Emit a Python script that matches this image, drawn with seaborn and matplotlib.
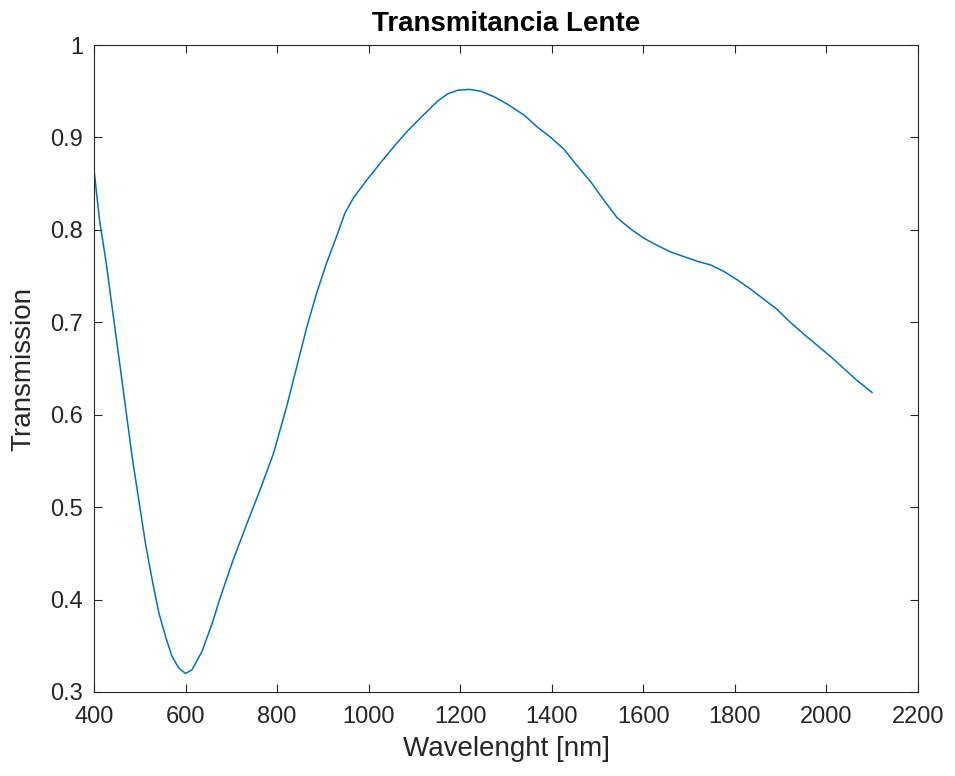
import numpy as np
import pandas as pd
import seaborn as sns
import matplotlib
matplotlib.use("Agg")
import matplotlib.pyplot as plt

# Transmission curve
wavelength = [400, 412, 427, 441, 456, 470, 484, 499, 513, 528, 542, 557, 570,
              585, 600, 614, 636, 658, 675, 704, 734, 763, 792, 821, 843, 865,
              886, 908, 930, 948, 966, 996, 1025, 1060, 1085, 1115, 1150, 1172,
              1194, 1220, 1245, 1274, 1303, 1340, 1369, 1398, 1427, 1456, 1485,
              1514, 1543, 1572, 1601, 1631, 1660, 1689, 1718, 1747, 1776, 1805,
              1834, 1863, 1892, 1921, 1951, 1980, 2009, 2038, 2067, 2100]
transmission = [0.865, 0.811, 0.763, 0.711, 0.656, 0.604, 0.552, 0.504, 0.459,
                0.419, 0.385, 0.359, 0.339, 0.326, 0.320, 0.324, 0.344, 0.374,
                0.401, 0.443, 0.482, 0.519, 0.558, 0.609, 0.652, 0.695, 0.731,
                0.764, 0.793, 0.818, 0.834, 0.854, 0.872, 0.893, 0.907, 0.922,
                0.939, 0.947, 0.951, 0.952, 0.950, 0.944, 0.936, 0.924, 0.911,
                0.900, 0.887, 0.869, 0.852, 0.832, 0.813, 0.801, 0.791, 0.783,
                0.776, 0.771, 0.766, 0.762, 0.755, 0.746, 0.736, 0.725, 0.714,
                0.700, 0.687, 0.675, 0.663, 0.650, 0.637, 0.624]

x_ticks = [400, 600, 800, 1000, 1200, 1400, 1600, 1800, 2000, 2200]
y_ticks = [0.3, 0.4, 0.5, 0.6, 0.7, 0.8, 0.9, 1.0]
y_ticklabels = ["0.3", "0.4", "0.5", "0.6", "0.7", "0.8", "0.9", "1"]

df = pd.DataFrame({"wavelength": wavelength, "transmission": transmission})

sns.set_style("ticks")
plt.rcParams['font.family'] = ['Liberation Sans', 'DejaVu Sans']

fig = plt.figure(figsize=(9.55, 7.76), dpi=100)
ax = fig.add_axes([94 / 955, 1 - 692 / 776, (918 - 94) / 955, (692 - 45) / 776])

sns.lineplot(data=df, x="wavelength", y="transmission", color="#0072BD",
             linewidth=1.1, ax=ax)

ax.set_xlim(400, 2200)
ax.set_ylim(0.3, 1.0)
ax.set_xticks(x_ticks)
ax.set_yticks(y_ticks)
ax.set_yticklabels(y_ticklabels)

grey = "#262626"
for s in ax.spines.values():
  s.set_color(grey)
  s.set_linewidth(0.8)
  s.set_visible(True)
ax.tick_params(direction="in", length=6, width=0.8, colors=grey, labelsize=17,
               top=True, right=True, labelcolor=grey)
ax.tick_params(axis="x", pad=10)
ax.tick_params(axis="y", pad=8)

ax.set_xlabel("Wavelenght [nm]", fontsize=20, color=grey, labelpad=6)
ax.set_ylabel("Transmission", fontsize=20, color=grey, labelpad=10)
ax.set_title("Transmitancia Lente", fontsize=20, fontweight="bold", color="black", pad=10)

fig.savefig("out.png", dpi=100)
